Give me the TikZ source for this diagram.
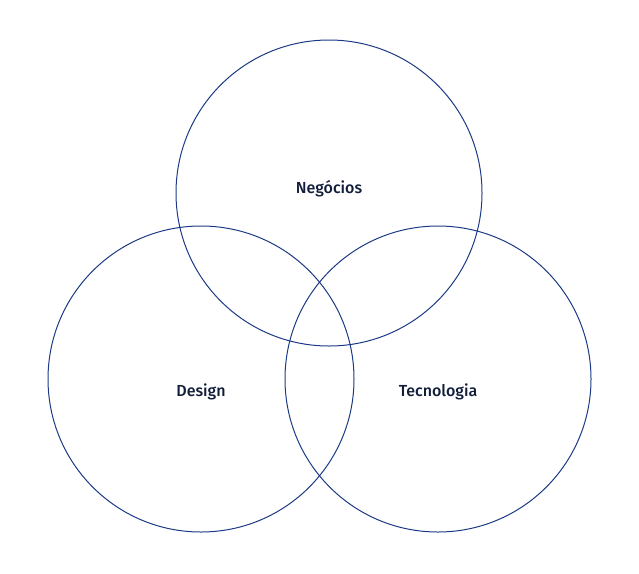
\documentclass[tikz,border=0pt]{standalone}
\usepackage{fontspec}
\setmainfont{Fira Sans}[UprightFont=* Medium]
\usetikzlibrary{positioning}
\definecolor{ringblue}{HTML}{1C3A85}
\definecolor{inkblue}{HTML}{111D3A}

\begin{document}
\begin{tikzpicture}[x=1pt, y=-1pt,
  ring/.style={draw=ringblue, line width=1pt, circle, minimum size=306pt, inner sep=0pt},
  tag/.style={text=inkblue, font=\fontsize{16}{18}\selectfont, inner sep=0pt}]
  \useasboundingbox (0,0) rectangle (639,573);
  \node[ring] (neg) at (329,193) {};
  \node[ring] (des) at (201,379) {};
  \node[ring] (tec) at (438,379) {};
  \node[tag] (negtxt) at (329,189) {Negócios};
  \node[tag] (destxt) at (201,392) {Design};
  \node[tag] (tectxt) at (438,392) {Tecnologia};
\end{tikzpicture}
\end{document}
